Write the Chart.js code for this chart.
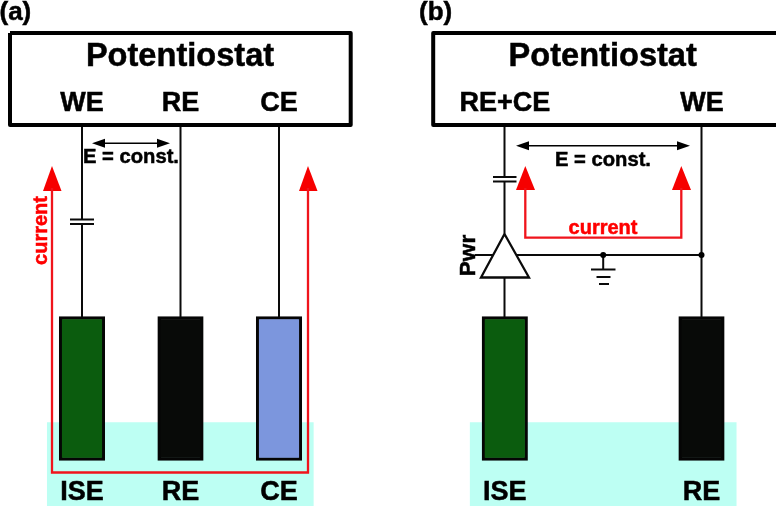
<!DOCTYPE html>
<html><head><meta charset="utf-8">
<style>html,body{margin:0;padding:0;background:#fff}#w{width:776px;height:506px}</style>
<script src="https://cdn.jsdelivr.net/npm/chart.js@4"></script></head>
<body><div id="w"><canvas id="c" width="776" height="506"></canvas></div>
<script>
// ---- diagram values, in axis units of the two linear scales ----
const xExtent = [0, 776];
const yExtent = [506, 0];
// bath + electrodes (floating bars)
const bathX = [180.3, 603.2];
const bathY = [[422.5, 506], [422.5, 506]];
const electrodeX = [82, 180.5, 279, 504.8, 701.5];
const electrodeY = [[316.5, 460.5], [316.5, 460.5], [316.5, 460.5], [316.5, 460.5], [316.5, 460.5]];
const electrodeFill = ['#0b5c0e', '#080a08', '#7c96dd', '#0b5c0e', '#080a08'];
// outlines
const boxA = [[10, 33], [350.7, 33], [350.7, 125], [10, 125], [10, 33]];
const boxB = [[776, 33], [433.2, 33], [433.2, 125], [776, 125]];
// wires
const wires = [
  [[82, 125], [82, 219.5]], [[82, 224], [82, 317]],
  [[180.5, 125], [180.5, 317]],
  [[279, 125], [279, 317]],
  [[504.5, 125], [504.5, 177]], [[504.5, 181.5], [504.5, 234]], [[504.5, 277], [504.5, 317]],
  [[701.5, 125], [701.5, 317]],
  [[475, 255], [701.5, 255]],
  [[603.2, 255], [603.2, 269.5]]
];
const plates = [
  [[70, 219.5], [94, 219.5]], [[70, 224], [94, 224]],
  [[493, 177], [516.5, 177]], [[493, 181.5], [516.5, 181.5]],
  [[591, 269.5], [615.5, 269.5]], [[596.5, 277], [610.5, 277]], [[599, 284], [609, 284]]
];
const amplifier = [[504.5, 234], [481, 277.5], [529, 277.5], [504.5, 234]];
const junctions = [[603.2, 255], [701.5, 255]];
// potential arrows
const potentialLines = [[[98, 143.3], [164, 143.3]], [[523, 145.7], [683, 145.7]]];
const potentialHeads = [
  [[92, 143.3], [105, 138.8], [105, 147.8], [92, 143.3]],
  [[170, 143.3], [157, 138.8], [157, 147.8], [170, 143.3]],
  [[516, 145.7], [529, 141.2], [529, 150.2], [516, 145.7]],
  [[690, 145.7], [677, 141.2], [677, 150.2], [690, 145.7]]
];
// current paths
const currentPaths = [
  [[52, 188], [52, 472.5], [308, 472.5], [308, 188]],
  [[525.3, 188], [525.3, 237.7], [681.3, 237.7], [681.3, 188]]
];
const currentHeads = [
  [[52, 166], [43, 191], [61.5, 191], [52, 166]],
  [[308, 166], [299, 191], [317.5, 191], [308, 166]],
  [[525.3, 166], [516, 190], [535, 190], [525.3, 166]],
  [[681.3, 166], [672, 190], [691, 190], [681.3, 166]]
];
// text
const textItems = ['(a)', '(b)', 'Potentiostat', 'Potentiostat', 'WE', 'RE', 'CE', 'RE+CE', 'WE',
  'E = const.', 'E = const.', 'current', 'current', 'Pwr', 'ISE', 'RE', 'CE', 'ISE', 'RE'];
const textX = [-0.5, 419, 180, 602.7, 82, 180.5, 279, 504.8, 702, 131, 603, 47, 603, 475, 82, 180.5, 279, 504.8, 701.5];
const textY = [19.5, 19.5, 66, 66, 110.7, 110.7, 110.7, 110.7, 110.7, 163, 165.7, 230.5, 234, 255.5, 500, 500, 500, 500, 500];
const textSize = [26, 26, 32.6, 32.6, 27, 27, 27, 27, 27, 20.2, 20.2, 20, 20, 22.5, 27, 27, 27, 27, 27];
const textColor = ['#000','#000','#000','#000','#000','#000','#000','#000','#000','#000','#000','#f00','#f00','#000','#000','#000','#000','#000','#000'];
const textAlign = ['left','left','center','center','center','center','center','center','center','center','center','center','center','center','center','center','center','center','center'];
const textAngle = [0,0,0,0,0,0,0,0,0,0,0,-90,0,-90,0,0,0,0,0];

const pts = a => a.map(p => ({x: p[0], y: p[1]}));
const ds = [];
function line(arr, color, width, order, extra) {
  ds.push(Object.assign({type: 'line', data: pts(arr), borderColor: color, borderWidth: width,
    pointRadius: 0, tension: 0, fill: false, order, borderCapStyle: 'butt', borderJoinStyle: 'miter'}, extra || {}));
}
function poly(arr, color, stroke, width, order) {
  line(arr, stroke, width, order, {fill: 'shape', backgroundColor: color});
}
// bath
ds.push({type: 'bar', data: bathX.map((x, i) => ({x, y: bathY[i]})), backgroundColor: '#bdfff3',
  barThickness: 266, grouped: false, borderWidth: 0, order: 10});
// electrodes
ds.push({type: 'bar', data: electrodeX.map((x, i) => ({x, y: electrodeY[i]})),
  backgroundColor: electrodeFill, borderColor: '#050505', borderWidth: 3, borderSkipped: false,
  barThickness: 45.5, grouped: false, order: 9});
wires.forEach(w => line(w, '#0a0a0a', 2, 8));
plates.forEach(w => line(w, '#0a0a0a', 2, 8));
line(boxA, '#000', 4, 7, {borderJoinStyle: 'round'});
line(boxB, '#000', 4, 7, {borderJoinStyle: 'round'});
poly(amplifier, '#fff', '#0a0a0a', 2.3, 6);
ds.push({type: 'scatter', data: pts(junctions), pointRadius: 3, pointBackgroundColor: '#000',
  pointBorderWidth: 0, showLine: false, order: 6});
potentialLines.forEach(w => line(w, '#000', 1.6, 5));
potentialHeads.forEach(w => poly(w, '#000', '#000', 0, 5));
currentPaths.forEach(w => line(w, '#f0141c', 2.3, 4));
currentHeads.forEach(w => poly(w, '#f60000', '#f60000', 0, 4));

const labelsPlugin = {
  id: 'diagramText',
  afterDatasetsDraw(chart) {
    const {ctx, scales: {x, y}} = chart;
    textItems.forEach((t, i) => {
      ctx.save();
      ctx.translate(x.getPixelForValue(textX[i]), y.getPixelForValue(textY[i]));
      ctx.rotate(textAngle[i] * Math.PI / 180);
      ctx.font = 'bold ' + textSize[i] + 'px "Liberation Sans", Arial, sans-serif';
      ctx.fillStyle = textColor[i];
      ctx.strokeStyle = textColor[i];
      ctx.lineWidth = 0.5;
      ctx.textAlign = textAlign[i];
      ctx.textBaseline = 'alphabetic';
      ctx.fillText(t, 0, 0);
      ctx.strokeText(t, 0, 0);
      ctx.restore();
    });
  }
};

new Chart(document.getElementById('c'), {
  data: {datasets: ds},
  plugins: [labelsPlugin],
  options: {
    responsive: false, animation: false,
    layout: {padding: 0, autoPadding: false},
    plugins: {legend: {display: false}, tooltip: {enabled: false}},
    scales: {
      x: {type: 'linear', min: xExtent[0], max: xExtent[1], display: false, offset: false},
      y: {type: 'linear', min: yExtent[1], max: yExtent[0], reverse: true, display: false}
    }
  }
});
</script></body></html>
